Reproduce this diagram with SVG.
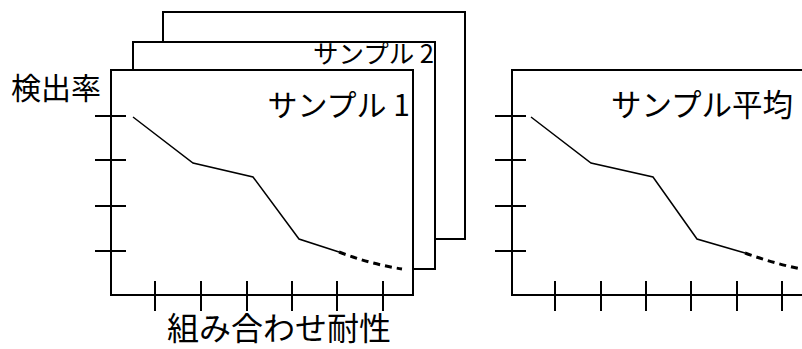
<svg xmlns="http://www.w3.org/2000/svg" width="802" height="349" viewBox="0 0 802 349">
<style>
.frame{fill:#fff;stroke:#000;stroke-width:2}
.tick{stroke:#000;stroke-width:2}
.curve{fill:none;stroke:#000;stroke-width:1.5}
.dash{fill:none;stroke:#000;stroke-width:3;stroke-dasharray:7 5}
.t{font-family:"Noto Sans CJK JP","Noto Sans",sans-serif;fill:#000}
</style>
<g id="sample3">
<rect class="frame" x="163" y="12" width="302" height="227"/>
</g>
<g id="sample2">
<rect class="frame" x="133" y="42" width="302" height="227"/>
<text class="t" x="434" y="63" font-size="25.5" text-anchor="end">サンプル 2</text>
</g>
<g id="sample1">
<rect class="frame" x="111" y="70" width="302" height="225"/>
<text class="t" x="410" y="116" font-size="30" text-anchor="end">サンプル 1</text>
<g class="tick">
<line x1="95" y1="116" x2="126" y2="116"/>
<line x1="95" y1="160" x2="126" y2="160"/>
<line x1="95" y1="206" x2="126" y2="206"/>
<line x1="95" y1="251" x2="126" y2="251"/>
<line x1="155" y1="281" x2="155" y2="311"/>
<line x1="201" y1="281" x2="201" y2="311"/>
<line x1="247" y1="281" x2="247" y2="311"/>
<line x1="292" y1="281" x2="292" y2="311"/>
<line x1="337" y1="281" x2="337" y2="311"/>
<line x1="383" y1="281" x2="383" y2="311"/>
</g>
<polyline class="curve" points="133,117 193,163 253,177 299,239 339,252"/>
<path class="dash" d="M339,252 Q370,264 402,269"/>
</g>
<g id="sampleAvg">
<rect class="frame" x="512" y="70" width="302" height="225"/>
<text class="t" x="611" y="116" font-size="30.5">サンプル平均</text>
<g class="tick">
<line x1="495" y1="116" x2="526" y2="116"/>
<line x1="495" y1="160" x2="526" y2="160"/>
<line x1="495" y1="206" x2="526" y2="206"/>
<line x1="495" y1="251" x2="526" y2="251"/>
<line x1="555" y1="281" x2="555" y2="311"/>
<line x1="601" y1="281" x2="601" y2="311"/>
<line x1="646" y1="281" x2="646" y2="311"/>
<line x1="691" y1="281" x2="691" y2="311"/>
<line x1="737" y1="281" x2="737" y2="311"/>
<line x1="782" y1="281" x2="782" y2="311"/>
</g>
<polyline class="curve" points="531,117 591,163 653,177 697,239 745,253"/>
<path class="dash" d="M745,253 Q775,264 806,270"/>
</g>
<g id="labels">
<text class="t" x="11" y="99" font-size="30">検出率</text>
<text class="t" x="167" y="340" font-size="32">組み合わせ耐性</text>
</g>
</svg>
